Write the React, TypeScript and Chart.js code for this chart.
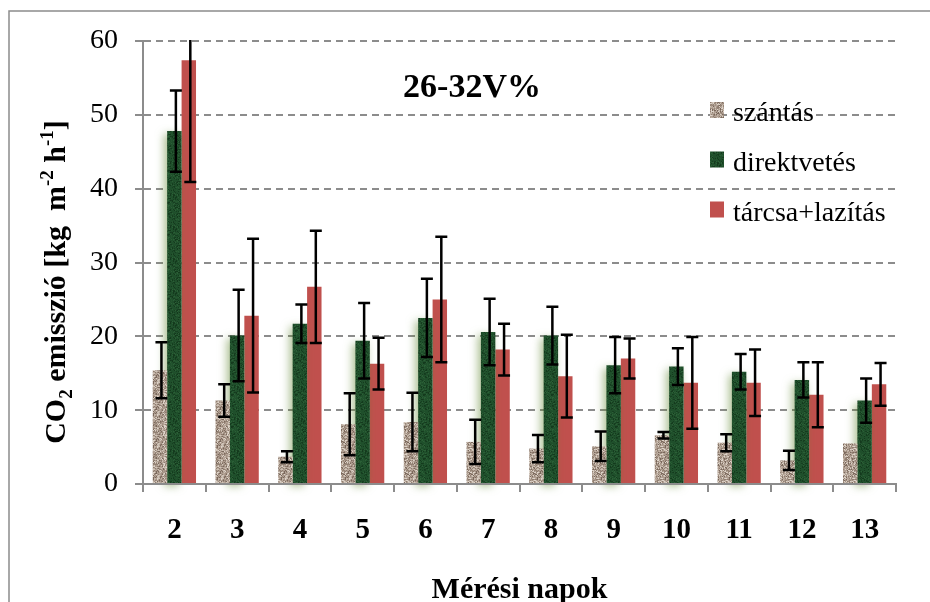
import React, { useEffect, useRef } from "react";
import { Chart, registerables } from "chart.js";

Chart.register(...registerables);

// Measurement days and treatments
const days = ["2", "3", "4", "5", "6", "7", "8", "9", "10", "11", "12", "13"];
const seriesNames = ["szántás", "direktvetés", "tárcsa+lazítás"];

// Mean CO2 emission per treatment, kg m-2 h-1
const szantas = [15.4, 11.3, 3.7, 8.1, 8.4, 5.7, 4.8, 5.1, 6.6, 5.6, 3.2, 5.5];
const direkt = [47.8, 20.1, 21.7, 19.4, 22.5, 20.6, 20.1, 16.1, 15.9, 15.2, 14.1, 11.3];
const tarcsa = [57.4, 22.8, 26.7, 16.3, 25.0, 18.2, 14.6, 17.0, 13.7, 13.7, 12.1, 13.5];

// Standard deviations (error bars)
const szantasErr = [3.8, 2.2, 0.75, 4.2, 3.95, 3.0, 1.85, 2.0, 0.45, 1.15, 1.3, 0];
const direktErr = [5.5, 6.2, 2.6, 5.1, 5.3, 4.5, 3.9, 3.8, 2.5, 2.4, 2.4, 3.0];
const tarcsaErr = [16.5, 10.4, 7.6, 3.5, 8.5, 3.5, 5.6, 2.7, 6.2, 4.5, 4.4, 2.9];

const yTicks = [0, 10, 20, 30, 40, 50, 60];

const chartTitle = "26-32V%";
const xTitle = "Mérési napok";

const SERIF = "'Liberation Serif', 'Times New Roman', serif";
const GRAY = "#8c8c8c";

// Small speckled texture tiles for the bar fills
function makePattern(base: string, spots: string[], seed: number, density: number): CanvasPattern | string {
  const size = 32;
  const c = document.createElement("canvas");
  c.width = size;
  c.height = size;
  const g = c.getContext("2d");
  if (!g) return base;
  g.fillStyle = base;
  g.fillRect(0, 0, size, size);
  let s = seed >>> 0;
  const rnd = () => {
    s = (Math.imul(s, 1664525) + 1013904223) >>> 0;
    return s / 4294967296;
  };
  const n = Math.floor(size * size * density);
  for (let i = 0; i < n; i++) {
    const x = Math.floor(rnd() * size);
    const y = Math.floor(rnd() * size);
    g.fillStyle = spots[Math.floor(rnd() * spots.length)];
    g.fillRect(x, y, 1, 1);
  }
  const p = g.createPattern(c, "repeat");
  return p || base;
}

export default function App() {
  const ref = useRef<HTMLCanvasElement | null>(null);

  useEffect(() => {
    const canvas = ref.current;
    if (!canvas) return;

    const fills = [
      makePattern(
        "#b09f92",
        ["#8f7d70", "#cfc3b7", "#7a685c", "#c2b4a7", "#a39183", "#ddd3c9", "#b8a99c", "#968577"],
        12345,
        1.6
      ),
      makePattern("#1f4f2b", ["#173f21", "#2b5f36", "#143a1d", "#24562f"], 777, 0.6),
      "#c0504d",
    ];
    const seriesValues = [szantas, direkt, tarcsa];
    const seriesErrors = [szantasErr, direktErr, tarcsaErr];

    const greenGlow = {
      id: "greenGlow",
      beforeDatasetDraw(chart: any, args: any) {
        if (args.index !== 1) return;
        const ctx = chart.ctx;
        ctx.save();
        ctx.shadowColor = "rgba(88,128,36,0.5)";
        ctx.shadowBlur = 9;
        ctx.shadowOffsetX = -3;
        ctx.shadowOffsetY = 3;
      },
      afterDatasetDraw(chart: any, args: any) {
        if (args.index !== 1) return;
        chart.ctx.restore();
      },
    };

    const errorBars = {
      id: "errorBars",
      afterDatasetsDraw(chart: any) {
        const ctx = chart.ctx;
        const area = chart.chartArea;
        const yScale = chart.scales.y;
        ctx.save();
        ctx.beginPath();
        ctx.rect(area.left, area.top - 1, area.right - area.left, area.bottom - area.top + 2);
        ctx.clip();
        ctx.strokeStyle = "#000";
        ctx.lineWidth = 2.5;
        seriesValues.forEach((vals, di) => {
          const meta = chart.getDatasetMeta(di);
          meta.data.forEach((bar: any, i: number) => {
            const e = seriesErrors[di][i];
            if (!e) return;
            const x = bar.x + 1.5;
            const yt = yScale.getPixelForValue(vals[i] + e);
            const yb = yScale.getPixelForValue(vals[i] - e);
            ctx.beginPath();
            ctx.moveTo(x, yt);
            ctx.lineTo(x, yb);
            ctx.moveTo(x - 6, yt);
            ctx.lineTo(x + 6, yt);
            ctx.moveTo(x - 6, yb);
            ctx.lineTo(x + 6, yb);
            ctx.stroke();
          });
        });
        ctx.restore();
      },
    };

    const decorations = {
      id: "decorations",
      afterDraw(chart: any) {
        const ctx = chart.ctx;
        const area = chart.chartArea;
        ctx.save();

        // outer frame
        ctx.strokeStyle = GRAY;
        ctx.lineWidth = 1.5;
        ctx.beginPath();
        ctx.moveTo(9, 602);
        ctx.lineTo(9, 11);
        ctx.lineTo(930, 11);
        ctx.stroke();

        // title inside the plot
        ctx.fillStyle = "#000";
        ctx.font = `bold 34px ${SERIF}`;
        ctx.textAlign = "center";
        ctx.textBaseline = "alphabetic";
        ctx.fillText(chartTitle, 472, 97);

        // x-axis title
        ctx.font = `bold 30px ${SERIF}`;
        ctx.fillText(xTitle, (area.left + area.right) / 2, 598);

        // legend
        const legendY = [110, 159.5, 209.5];
        ctx.textAlign = "left";
        ctx.font = `28px ${SERIF}`;
        seriesNames.forEach((name, i) => {
          ctx.fillStyle = fills[i] as any;
          ctx.fillRect(710, legendY[i] - 8, 14, 16);
          ctx.fillStyle = "#000";
          ctx.fillText(name, 733, legendY[i] + 11);
        });

        // y-axis title with sub/superscripts
        const big = `bold 30px ${SERIF}`;
        const small = `bold 19px ${SERIF}`;
        const parts: [string, string, number][] = [
          ["CO", big, 0],
          ["2", small, 7],
          [" emisszió [kg  m", big, 0],
          ["-2", small, -12],
          [" h", big, 0],
          ["-1", small, -12],
          ["]", big, 0],
        ];
        let total = 0;
        parts.forEach(([t, f]) => {
          ctx.font = f;
          total += ctx.measureText(t).width;
        });
        ctx.translate(65, 282);
        ctx.rotate(-Math.PI / 2);
        let x = -total / 2;
        parts.forEach(([t, f, dy]) => {
          ctx.font = f;
          ctx.fillText(t, x, dy);
          x += ctx.measureText(t).width;
        });
        ctx.restore();
      },
    };

    const chart = new Chart(canvas, {
      type: "bar",
      data: {
        labels: days,
        datasets: seriesNames.map((name, i) => ({
          label: name,
          data: seriesValues[i],
          backgroundColor: fills[i] as any,
          borderWidth: 0,
          categoryPercentage: 0.69,
          barPercentage: 1.0,
          clip: i === 1 ? 14 : 0,
        })) as any,
      },
      options: {
        responsive: false,
        animation: false,
        layout: { padding: { top: 41, right: 34, left: 0, bottom: 0 } },
        plugins: {
          legend: { display: false },
          title: { display: false },
          tooltip: { enabled: false },
        },
        scales: {
          x: {
            type: "category",
            grid: {
              offset: true,
              drawOnChartArea: false,
              drawTicks: true,
              tickLength: 8,
              color: GRAY,
              lineWidth: 2,
            },
            border: { color: GRAY, width: 2, z: 1 },
            ticks: {
              font: { family: SERIF, size: 29, weight: "bold" },
              color: "#000",
              padding: 21,
              maxRotation: 0,
              autoSkip: false,
            },
            afterFit: (s: any) => {
              s.height = 118;
            },
          },
          y: {
            min: 0,
            max: 60,
            afterBuildTicks: (s: any) => {
              s.ticks = yTicks.map((v) => ({ value: v }));
            },
            grid: {
              color: GRAY,
              lineWidth: 2,
              tickLength: 8,
              tickBorderDash: [],
            },
            border: { display: true, color: GRAY, width: 2, dash: [7, 5] },
            ticks: {
              font: { family: SERIF, size: 28 },
              color: "#000",
              padding: 17,
            },
            afterFit: (s: any) => {
              s.width = 143;
            },
          },
        },
      } as any,
      plugins: [greenGlow, errorBars, decorations],
    });

    return () => chart.destroy();
  }, []);

  return (
    <div style={{ position: "absolute", left: 0, top: 0, width: 930, height: 602, background: "#fff" }}>
      <canvas ref={ref} width={930} height={602} style={{ display: "block" }} />
    </div>
  );
}
